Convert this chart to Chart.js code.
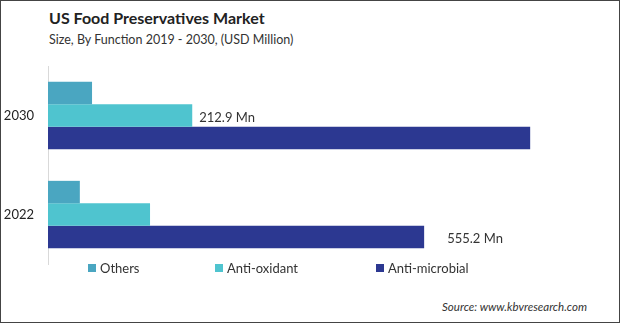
<!DOCTYPE html>
<html>
<head>
<meta charset="utf-8">
<script src="https://cdn.jsdelivr.net/npm/chart.js@4"></script>
<style>
  html, body { margin: 0; padding: 0; background: #fff; }
  #frame {
    position: relative; width: 620px; height: 323px; box-sizing: border-box;
    border: 1px solid #444; overflow: hidden; font-family: Lato, "Open Sans", sans-serif;
  }
  #title { position: absolute; left: 48px; top: 7px; font-size: 16px; font-weight: bold; color: #222; }
  #subtitle { position: absolute; left: 48px; top: 31px; font-size: 12.5px; color: #333; }
  #chart { position: absolute; left: 0; top: 60px; }
  #legend { position: absolute; top: 259px; left: 0; width: 618px; height: 16px; font-size: 13px; color: #333; }
  .lg { position: absolute; display: flex; align-items: center; }
  .lg span.box { width: 8px; height: 8px; margin-right: 4px; }
  #source { position: absolute; right: 32px; top: 299px; font-size: 11.5px; font-style: italic; color: #333; }
</style>
</head>
<body>
<div id="frame">
  <div id="title">US Food Preservatives Market</div>
  <div id="subtitle">Size, By Function 2019 - 2030, (USD Million)</div>
  <canvas id="chart" width="618" height="205"></canvas>
  <div id="legend"></div>
  <div id="source">Source: www.kbvresearch.com</div>
</div>
<script>
// categories (top to bottom) and series values, USD Million
const years = ['2030', '2022'];
const seriesNames = ['Others', 'Anti-oxidant', 'Anti-microbial'];
const othersValues = [65, 47];
const antiOxidantValues = [212.9, 150.6];
const antiMicrobialValues = [711.7, 555.2];
const seriesColors = ['#4aa6c1', '#4fc4cf', '#2c3891'];
const xMax = 800;

// which bars get a value label: [datasetIndex, categoryIndex, gap]
const valueLabels = [[1, 0, 7], [2, 1, 23]];

const labelPlugin = {
  id: 'valueLabels',
  afterDatasetsDraw(chart) {
    const ctx = chart.ctx;
    ctx.save();
    ctx.font = '13px Lato, "Open Sans", sans-serif';
    ctx.fillStyle = '#333';
    ctx.textBaseline = 'middle';
    valueLabels.forEach(([ds, i, gap]) => {
      const bar = chart.getDatasetMeta(ds).data[i];
      const v = chart.data.datasets[ds].data[i];
      ctx.fillText(v.toFixed(1) + ' Mn', bar.x + gap, bar.y + 2);
    });
    ctx.restore();
  }
};

const chart = new Chart(document.getElementById('chart'), {
  type: 'bar',
  data: {
    labels: years,
    datasets: [
      { label: seriesNames[0], data: othersValues, backgroundColor: seriesColors[0] },
      { label: seriesNames[1], data: antiOxidantValues, backgroundColor: seriesColors[1] },
      { label: seriesNames[2], data: antiMicrobialValues, backgroundColor: seriesColors[2] }
    ]
  },
  options: {
    indexAxis: 'y',
    responsive: false,
    animation: false,
    layout: { autoPadding: false, padding: { top: 5, bottom: 2, left: 0, right: 29 } },
    datasets: { bar: { categoryPercentage: 0.68, barPercentage: 1.0 } },
    scales: {
      x: {
        min: 0, max: xMax,
        display: false,
        grid: { display: false }
      },
      y: {
        afterFit(scale) {
          scale.width = 47;
          scale.paddingTop = 0;
          scale.paddingBottom = 0;
        },
        grid: { display: false, drawTicks: false },
        border: { display: true, color: '#d9d9d9', width: 1 },
        ticks: { padding: 14, color: '#222', font: { family: 'Lato, "Open Sans", sans-serif', size: 13 } }
      }
    },
    plugins: {
      legend: { display: false },
      tooltip: { enabled: false }
    }
  },
  plugins: [labelPlugin]
});

// legend built from the series arrays
const legendLeft = [87, 214, 375];
const legendEl = document.getElementById('legend');
seriesNames.forEach((name, k) => {
  const item = document.createElement('div');
  item.className = 'lg';
  item.style.left = legendLeft[k] + 'px';
  const box = document.createElement('span');
  box.className = 'box';
  box.style.background = seriesColors[k];
  const txt = document.createElement('span');
  txt.textContent = name;
  item.appendChild(box);
  item.appendChild(txt);
  legendEl.appendChild(item);
});
</script>
</body>
</html>
